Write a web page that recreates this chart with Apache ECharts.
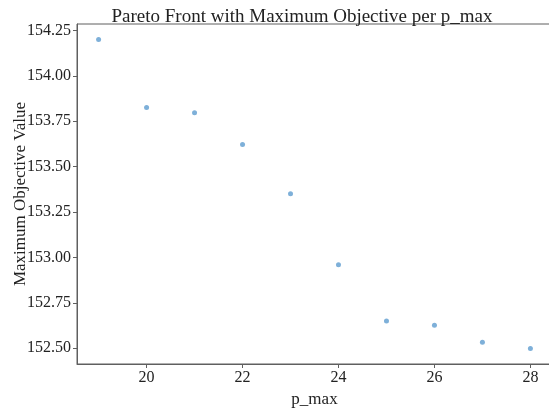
<!DOCTYPE html>
<html>
<head>
<meta charset="utf-8">
<script src="https://cdn.jsdelivr.net/npm/echarts@6/dist/echarts.min.js"></script>
<style>
  html, body { margin: 0; padding: 0; background: #fff; }
  #chart { width: 549px; height: 408px; }
</style>
</head>
<body>
<div id="chart"></div>
<script>
// p_max values and the best objective reached for each one
const pMax = [19, 20, 21, 22, 23, 24, 25, 26, 27, 28];
const maxObjective = [154.200, 153.825, 153.797, 153.622, 153.351, 152.960, 152.649, 152.626, 152.532, 152.498];

// tick positions for both axes
const xTicks = [20, 22, 24, 26, 28];
const yTicks = [152.50, 152.75, 153.00, 153.25, 153.50, 153.75, 154.00, 154.25];

const serif = '"Liberation Serif", "DejaVu Serif", serif';
const axisColor = '#5f5f5f';
const textColor = '#222';

// 5% padding around the data range on both axes
function padded(values, frac) {
  const lo = Math.min(...values), hi = Math.max(...values);
  const pad = (hi - lo) * frac;
  return [lo - pad, hi + pad];
}
const [xMin, xMax] = padded(pMax, 0.05);
const [yMin, yMax] = padded(maxObjective, 0.05);

const chart = echarts.init(document.getElementById('chart'), null, { renderer: 'canvas' });
chart.setOption({
  animation: false,
  backgroundColor: '#fff',
  title: {
    text: 'Pareto Front with Maximum Objective per p_max',
    left: 297,
    top: 3,
    textAlign: 'center',
    textStyle: { fontFamily: serif, fontSize: 19, fontWeight: 'normal', color: textColor }
  },
  grid: {
    left: 77, top: 24, width: 475, height: 340,
    containLabel: false,
    outerBoundsMode: 'none',
    show: true, borderColor: axisColor, borderWidth: 1, backgroundColor: '#fff'
  },
  xAxis: {
    type: 'value',
    min: xMin, max: xMax,
    name: 'p_max',
    nameLocation: 'middle',
    nameGap: 27,
    nameMoveOverlap: false,
    nameTextStyle: { fontFamily: serif, fontSize: 17, color: textColor },
    axisLine: { show: true, lineStyle: { color: axisColor, width: 1 } },
    axisTick: { show: true, length: 4, customValues: xTicks, lineStyle: { color: axisColor } },
    axisLabel: {
      customValues: xTicks, margin: 6,
      fontFamily: serif, fontSize: 16, color: textColor
    },
    splitLine: { show: false }
  },
  yAxis: {
    type: 'value',
    min: yMin, max: yMax,
    name: 'Maximum Objective Value',
    nameLocation: 'middle',
    nameGap: 48,
    nameMoveOverlap: false,
    nameTextStyle: { fontFamily: serif, fontSize: 17, color: textColor },
    axisLine: { show: true, lineStyle: { color: axisColor, width: 1 } },
    axisTick: { show: true, length: 4, customValues: yTicks, lineStyle: { color: axisColor } },
    axisLabel: {
      customValues: yTicks, margin: 6,
      fontFamily: serif, fontSize: 16, color: textColor,
      formatter: v => v.toFixed(2)
    },
    splitLine: { show: false }
  },
  series: [{
    type: 'scatter',
    data: pMax.map((p, i) => [p, maxObjective[i]]),
    symbol: 'circle',
    symbolSize: 5,
    itemStyle: { color: '#7eb0d9', opacity: 1 }
  }]
});
</script>
</body>
</html>
